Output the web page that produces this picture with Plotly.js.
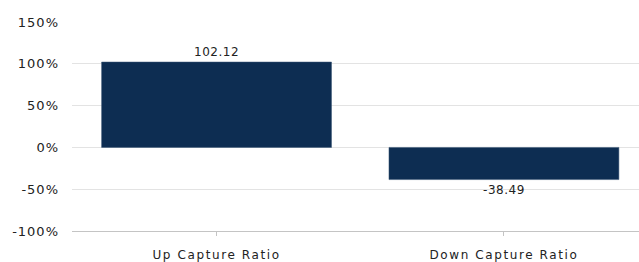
<!DOCTYPE html>
<html>
<head>
<meta charset="utf-8">
<script src="https://cdn.plot.ly/plotly-3.0.1.min.js"></script>
<style>
html,body{margin:0;padding:0;background:#fff;}
#chart{width:639px;height:262px;}
#chart g.xtick text{letter-spacing:1.6px;}
#chart g.ytick text{letter-spacing:1px;}
#chart g.point text, #chart text.bartext{letter-spacing:0.5px;}
</style>
</head>
<body>
<div id="chart"></div>
<script>
const categories = ["Up Capture Ratio", "Down Capture Ratio"];
const captureValues = [102.12, -38.49];
const yTickValues = [-100, -50, 0, 50, 100, 150];
const yTickLabels = ["-100%", "-50%", "0%", "50%", "100%", "150%"];

const trace = {
  type: "bar",
  x: categories,
  y: captureValues,
  text: captureValues.map(v => v.toFixed(2)),
  textposition: "outside",
  cliponaxis: false,
  textfont: {family: "DejaVu Sans, Verdana, sans-serif", size: 12, color: "#222"},
  marker: {color: "#0d2d52", line: {color: "#3b5675", width: 0.5}},
  width: 0.8,
  hoverinfo: "none"
};

const layout = {
  width: 639, height: 262,
  margin: {l: 72, r: 0, t: 22, b: 31},
  paper_bgcolor: "#fff", plot_bgcolor: "#fff",
  showlegend: false,
  font: {family: "DejaVu Sans, Verdana, sans-serif", size: 12, color: "#222"},
  xaxis: {
    type: "category",
    range: [-0.503, 1.47],
    showgrid: false,
    showline: true, linecolor: "#c4c4c4", linewidth: 1,
    ticks: "outside", ticklen: 4, tickcolor: "#c4c4c4",
    tickfont: {size: 12, color: "#222"},
    ticklabelstandoff: 9,
    fixedrange: true
  },
  yaxis: {
    range: [-100, 150],
    tickvals: yTickValues,
    ticktext: yTickLabels,
    showgrid: true, gridcolor: "#e3e3e3", gridwidth: 1,
    zeroline: true, zerolinecolor: "#e3e3e3", zerolinewidth: 1,
    showline: false,
    ticks: "",
    tickfont: {size: 13, color: "#222"},
    ticklabelstandoff: 12,
    fixedrange: true
  }
};

Plotly.newPlot("chart", [trace], layout, {staticPlot: true, displayModeBar: false});
</script>
</body>
</html>
